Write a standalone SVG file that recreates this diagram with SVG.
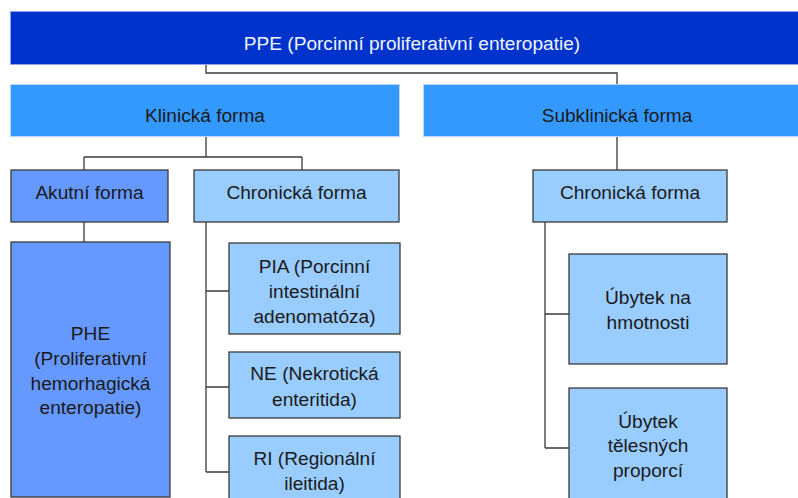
<svg xmlns="http://www.w3.org/2000/svg" width="798" height="498" viewBox="0 0 798 498">
<style>
text{font-family:"Liberation Sans",Arial,sans-serif;font-size:19.1px;fill:#1a1a1a;text-anchor:middle}
.top{fill:#0033cc;stroke:#8ea6f0;stroke-width:1}
.top-t{fill:#f0f4ff}
.lvl1{fill:#3399ff;stroke:#b5d6ff;stroke-width:1}
.dark{fill:#6699ff;stroke:#3a3a3a;stroke-width:1.3}
.light{fill:#99ccff;stroke:#3a3a3a;stroke-width:1.3}
.conn{fill:none;stroke:#3a3a3a;stroke-width:1.3}
</style>
<rect width="798" height="498" fill="#ffffff"/>
<g id="connectors" class="conn">
<path d="M206 64V73H617V84"/>
<path d="M206 136V157M84 157H302M84 157V170M302 157V170"/>
<path d="M617 136V170"/>
<path d="M84 222V242"/>
<path d="M206 222V472M206 291H229M206 387H229M206 472H229"/>
<path d="M545 222V448M545 314H569M545 448H569"/>
</g>
<g id="ppe">
<rect class="top" x="10.5" y="11.5" width="804" height="53"/>
<text class="top-t" x="412" y="50">PPE (Porcinní proliferativní enteropatie)</text>
</g>
<g id="klinicka">
<rect class="lvl1" x="10.5" y="84.5" width="389" height="52"/>
<text x="205" y="122">Klinická forma</text>
</g>
<g id="subklinicka">
<rect class="lvl1" x="423.5" y="84.5" width="388" height="52"/>
<text x="617" y="122">Subklinická forma</text>
</g>
<g id="akutni">
<rect class="dark" x="11" y="170" width="157" height="52"/>
<text x="89.5" y="199">Akutní forma</text>
</g>
<g id="chronicka-k">
<rect class="light" x="194" y="170" width="205" height="52"/>
<text x="296.5" y="199">Chronická forma</text>
</g>
<g id="chronicka-s">
<rect class="light" x="533" y="170" width="194" height="52"/>
<text x="630" y="199">Chronická forma</text>
</g>
<g id="phe">
<rect class="dark" x="11" y="242" width="159" height="255"/>
<text x="90.5" y="340">PHE</text>
<text x="90.5" y="365">(Proliferativní</text>
<text x="90.5" y="389.5">hemorhagická</text>
<text x="90.5" y="414">enteropatie)</text>
</g>
<g id="pia">
<rect class="light" x="229" y="243" width="171" height="91"/>
<text x="314.5" y="272.5">PIA (Porcinní</text>
<text x="314.5" y="297.5">intestinální</text>
<text x="314.5" y="322.5">adenomatóza)</text>
</g>
<g id="ne">
<rect class="light" x="229" y="352" width="171" height="66"/>
<text x="314.5" y="380">NE (Nekrotická</text>
<text x="314.5" y="405.5">enteritida)</text>
</g>
<g id="ri">
<rect class="light" x="229" y="436" width="171" height="70"/>
<text x="314.5" y="465">RI (Regionální</text>
<text x="314.5" y="490">ileitida)</text>
</g>
<g id="hmotnost">
<rect class="light" x="569" y="254" width="158" height="110"/>
<text x="648" y="304">Úbytek na</text>
<text x="648" y="329">hmotnosti</text>
</g>
<g id="proporce">
<rect class="light" x="569" y="388" width="158" height="120"/>
<text x="648" y="427.5">Úbytek</text>
<text x="648" y="452">tělesných</text>
<text x="648" y="477">proporcí</text>
</g>
</svg>
